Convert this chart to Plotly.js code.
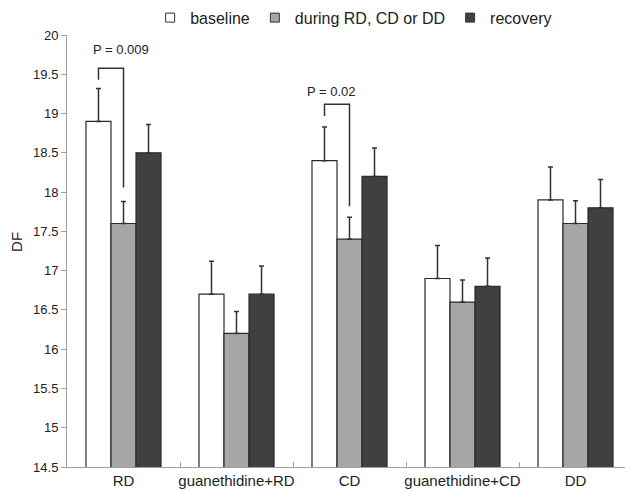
<!DOCTYPE html>
<html>
<head>
<meta charset="utf-8">
<script src="https://cdn.plot.ly/plotly-3.0.1.min.js"></script>
<style>html,body{margin:0;padding:0;background:#fff;}#chart{width:625px;height:492px;}</style>
</head>
<body>
<div id="chart"></div>
<script>
const categories = ["RD", "guanethidine+RD", "CD", "guanethidine+CD", "DD"];
const seriesNames = ["baseline", "during RD, CD or DD", "recovery"];
const baseline = [18.9, 16.7, 18.4, 16.9, 17.9];
const baselineErr = [0.42, 0.42, 0.43, 0.42, 0.42];
const during = [17.6, 16.2, 17.4, 16.6, 17.6];
const duringErr = [0.28, 0.28, 0.28, 0.28, 0.29];
const recovery = [18.5, 16.7, 18.2, 16.8, 17.8];
const recoveryErr = [0.36, 0.36, 0.36, 0.36, 0.36];
const yTicks = [14.5, 15, 15.5, 16, 16.5, 17, 17.5, 18, 18.5, 19, 19.5, 20];
// significance brackets: [category index, bracket top, left end, right end, label, label x offset, label y]
const brackets = [
  [0, 19.576, 19.43, 18.06, "P = 0.009", -0.022, 19.81],
  [2, 19.118, 18.97, 17.82, "P = 0.02", -0.155, 19.28]
];

const colors = ["#ffffff", "#a6a6a6", "#404040"];
const values = [baseline, during, recovery];
const errs = [baselineErr, duringErr, recoveryErr];

const traces = [];
for (let i = 0; i < 3; i++) {
  traces.push({
    type: "bar",
    name: seriesNames[i],
    x: categories,
    y: values[i],
    showlegend: false,
    marker: {color: colors[i], line: {color: "#2a2a2a", width: 1.2}},
    error_y: {type: "data", array: errs[i], arrayminus: errs[i].map(() => 0), symmetric: false,
              color: "#333333", thickness: 1.5, width: 2.5}
  });
}
for (let i = 0; i < 3; i++) {
  traces.push({
    type: "scatter", mode: "markers", name: seriesNames[i],
    x: [null], y: [null],
    marker: {symbol: "square", size: 9, color: colors[i], line: {color: "#333333", width: 1}}
  });
}

const gap = 0.336;
const bw = (1 - gap) / 3;
const shapes = [];
const annotations = [];
brackets.forEach(b => {
  const c = b[0];
  const xl = c - bw, xr = c;
  shapes.push({type: "path", xref: "x", yref: "y",
    path: `M ${xl},${b[2]} L ${xl},${b[1]} L ${xr},${b[1]} L ${xr},${b[3]}`,
    line: {color: "#333333", width: 1.5}});
  annotations.push({xref: "x", yref: "y", x: c + b[5], y: b[6], xanchor: "center", yanchor: "middle",
    text: b[4], showarrow: false, font: {size: 13, color: "#222"}});
});
annotations.push({xref: "paper", yref: "paper", x: -50 / 558, y: 0.521, xanchor: "center", yanchor: "middle",
  text: "DF", textangle: -90, showarrow: false, font: {size: 15, color: "#222"}});

const layout = {
  width: 625, height: 492,
  margin: {l: 67, r: 0, t: 35, b: 25},
  paper_bgcolor: "#fff", plot_bgcolor: "#fff",
  font: {family: "Liberation Sans, Arial, sans-serif", color: "#222"},
  barmode: "group", bargap: gap, bargroupgap: 0,
  showlegend: true,
  legend: {orientation: "h", x: 0.149, xanchor: "left", y: 1.04, yanchor: "middle",
           font: {size: 16, color: "#222"}, bgcolor: "rgba(0,0,0,0)", itemclick: false},
  xaxis: {type: "category", range: [-0.5, 4.438], showline: true, linecolor: "#a0a0a0", linewidth: 1,
          ticks: "inside", tickson: "boundaries", ticklen: 5, tickcolor: "#a0a0a0", tickangle: 0,
          automargin: false, tickfont: {size: 15, color: "#222"}, showgrid: false, zeroline: false},
  yaxis: {range: [14.5, 20], tickvals: yTicks, ticktext: yTicks.map(String), showline: true,
          linecolor: "#a0a0a0", linewidth: 1, ticks: "outside", ticklen: 5, tickcolor: "#a0a0a0",
          automargin: false, tickfont: {size: 13, color: "#222"}, showgrid: false, zeroline: false},
  shapes: shapes,
  annotations: annotations
};
Plotly.newPlot("chart", traces, layout, {displayModeBar: false, staticPlot: true});
</script>
</body>
</html>
